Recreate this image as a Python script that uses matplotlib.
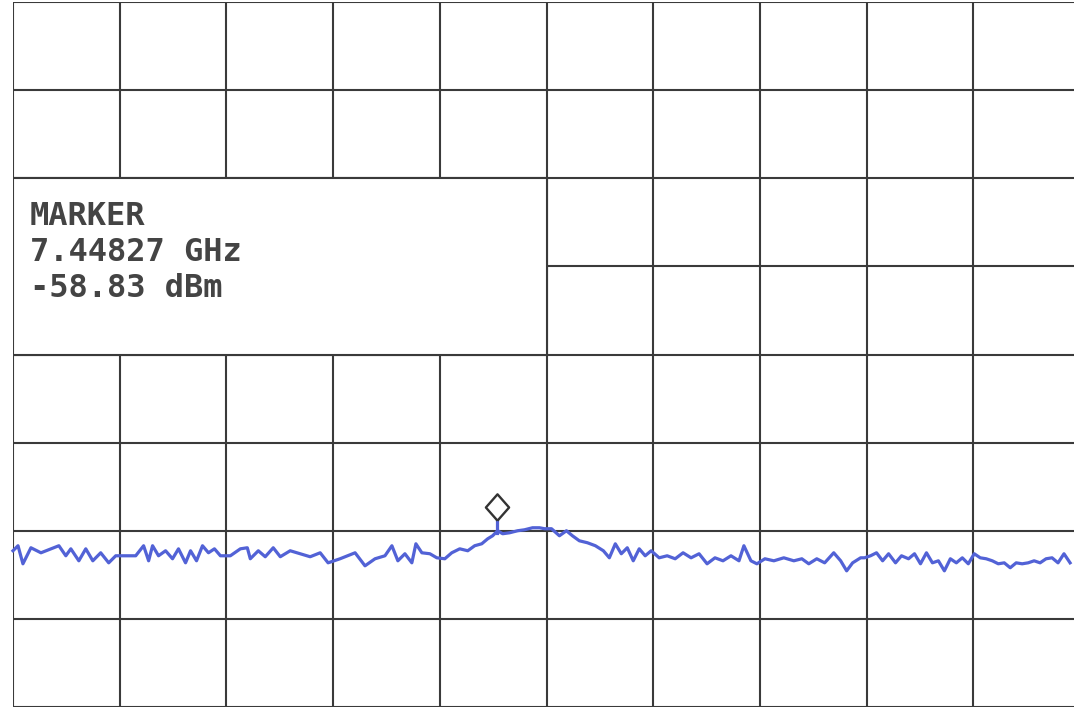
import matplotlib.pyplot as plt
import matplotlib.patches as patches
from matplotlib.transforms import offset_copy

## Trace (x in screen divisions, y in dBm)
trace_div = [0.0, 0.047, 0.093, 0.168, 0.262, 0.355, 0.430, 0.495, 0.542, 0.617,
             0.682, 0.748, 0.822, 0.897, 0.963,
             1.056, 1.150, 1.224, 1.271, 1.308, 1.364, 1.430, 1.495, 1.551, 1.617,
             1.664, 1.720, 1.776, 1.832, 1.888, 1.944,
             2.037, 2.131, 2.196, 2.224, 2.299, 2.364, 2.439, 2.505, 2.598, 2.692,
             2.785, 2.879, 2.953,
             3.065, 3.206, 3.299, 3.393, 3.486, 3.551, 3.607, 3.673, 3.738, 3.776,
             3.832, 3.907, 3.972,
             4.047, 4.112, 4.187, 4.262, 4.327, 4.393, 4.449, 4.495, 4.542, 4.589,
             4.654, 4.729, 4.794, 4.869, 4.935,
             4.981, 5.047, 5.121, 5.187, 5.243, 5.308, 5.383, 5.458, 5.533, 5.589,
             5.645, 5.701, 5.757, 5.813, 5.869, 5.925,
             5.981, 6.056, 6.131, 6.206, 6.280, 6.355, 6.430, 6.505, 6.579, 6.654,
             6.729, 6.804, 6.850, 6.916, 6.972,
             7.047, 7.131, 7.224, 7.318, 7.393, 7.458, 7.533, 7.607, 7.692, 7.757,
             7.813, 7.869, 7.944,
             7.981, 8.037, 8.093, 8.150, 8.206, 8.271, 8.327, 8.393, 8.449, 8.505,
             8.561, 8.617, 8.673, 8.729, 8.785, 8.841, 8.897, 8.953,
             9.009, 9.065, 9.121, 9.178, 9.234, 9.290, 9.346, 9.402, 9.458, 9.514,
             9.570, 9.626, 9.682, 9.738, 9.794, 9.850, 9.907]
trace_dbm = [-62.27, -61.70, -63.75, -61.93, -62.50, -62.05, -61.70, -62.84, -62.05, -63.41,
             -62.05, -63.41, -62.50, -63.64, -62.84,
             -62.84, -62.84, -61.70, -63.41, -61.70, -62.84, -62.27, -63.18, -62.05, -63.64,
             -62.27, -63.41, -61.70, -62.50, -62.05, -62.84,
             -62.84, -62.05, -61.93, -63.18, -62.27, -62.95, -61.93, -62.95, -62.27, -62.61,
             -62.95, -62.50, -63.64,
             -63.18, -62.50, -63.98, -63.18, -62.84, -61.70, -63.41, -62.61, -63.64, -61.48,
             -62.50, -62.61, -63.07,
             -63.18, -62.50, -62.05, -62.27, -61.70, -61.48, -60.91, -60.57, -60.00, -60.34,
             -60.23, -60.00, -59.89, -59.66, -59.66,
             -59.77, -59.77, -60.57, -60.00, -60.57, -61.14, -61.36, -61.70, -62.27, -63.07,
             -61.48, -62.61, -61.93, -63.41, -62.05, -62.84,
             -62.27, -63.07, -62.84, -63.18, -62.50, -63.07, -62.61, -63.75, -63.07, -63.41,
             -62.84, -63.41, -61.70, -63.41, -63.75,
             -63.18, -63.41, -63.07, -63.41, -63.18, -63.75, -63.18, -63.64, -62.50, -63.41,
             -64.55, -63.64, -63.07,
             -63.07, -62.84, -62.50, -63.41, -62.61, -63.64, -62.84, -63.18, -62.61, -63.75,
             -62.50, -63.64, -63.41, -64.55, -63.18, -63.64, -63.07, -63.75,
             -62.61, -63.07, -63.18, -63.41, -63.75, -63.64, -64.20, -63.64, -63.75, -63.64,
             -63.41, -63.64, -63.18, -63.07, -63.64, -62.61, -63.64]

## Marker readout
marker_div = 4.54
marker_freq = '7.44827 GHz'
marker_level = -58.83
marker_lines = ['MARKER', marker_freq, '%.2f dBm' % marker_level]

## Screen: 10 x 8 divisions, 10 dB/div, ref 0 dBm
ref_level = 0
db_per_div = 10
n_xdiv = 10
n_ydiv = 8

grid_col = '#3a3a3a'
trace_col = '#5262d6'


def main():
    W, H = 1074, 712
    fig = plt.figure(figsize=(W / 100, H / 100), dpi=100)
    fig.patch.set_facecolor('white')
    # screen runs past the right edge of the scan
    ax = fig.add_axes([13 / W, 5 / H, 1067 / W, 705 / H])
    bottom = ref_level - n_ydiv * db_per_div
    ax.set_xlim(0, n_xdiv)
    ax.set_ylim(bottom, ref_level)
    ax.set_xticks([])
    ax.set_yticks([])
    for s in ax.spines.values():
        s.set_visible(False)

    ## graticule
    for i in range(n_xdiv + 1):
        ax.axvline(i, color=grid_col, lw=1.5, zorder=1)
    for j in range(n_ydiv + 1):
        ax.axhline(ref_level - j * db_per_div, color=grid_col, lw=1.5, zorder=1)

    ## marker readout box (blanks the graticule behind it)
    box = patches.Rectangle((0, ref_level - 4 * db_per_div), 5, 2 * db_per_div,
                            facecolor='white', edgecolor=grid_col, lw=1.5, zorder=2)
    ax.add_patch(box)
    for k, line in enumerate(marker_lines):
        ax.text(0.16, ref_level - 2.26 * db_per_div - k * 0.405 * db_per_div, line,
                family='DejaVu Sans Mono', fontsize=23, fontweight='bold',
                color='#444444', va='top', ha='left', zorder=3)

    ## trace
    ax.plot(trace_div, trace_dbm, color=trace_col, lw=2.3, zorder=4,
            solid_joinstyle='round', clip_on=False)
    ax.plot([marker_div, marker_div], [-60.3, marker_level], color=trace_col,
            lw=2.3, zorder=4)

    ## marker diamond sits on top of the marked point
    trans = offset_copy(ax.transData, fig=fig, x=0, y=9.5, units='points')
    diamond = [(0, -1), (0.88, 0), (0, 1), (-0.88, 0), (0, -1)]
    ax.plot([marker_div], [marker_level], marker=diamond, ms=19, mfc='white',
            mec='#333333', mew=1.7, transform=trans, zorder=5)

    plt.savefig('out.png', dpi=100)


if __name__ == '__main__':
    main()
